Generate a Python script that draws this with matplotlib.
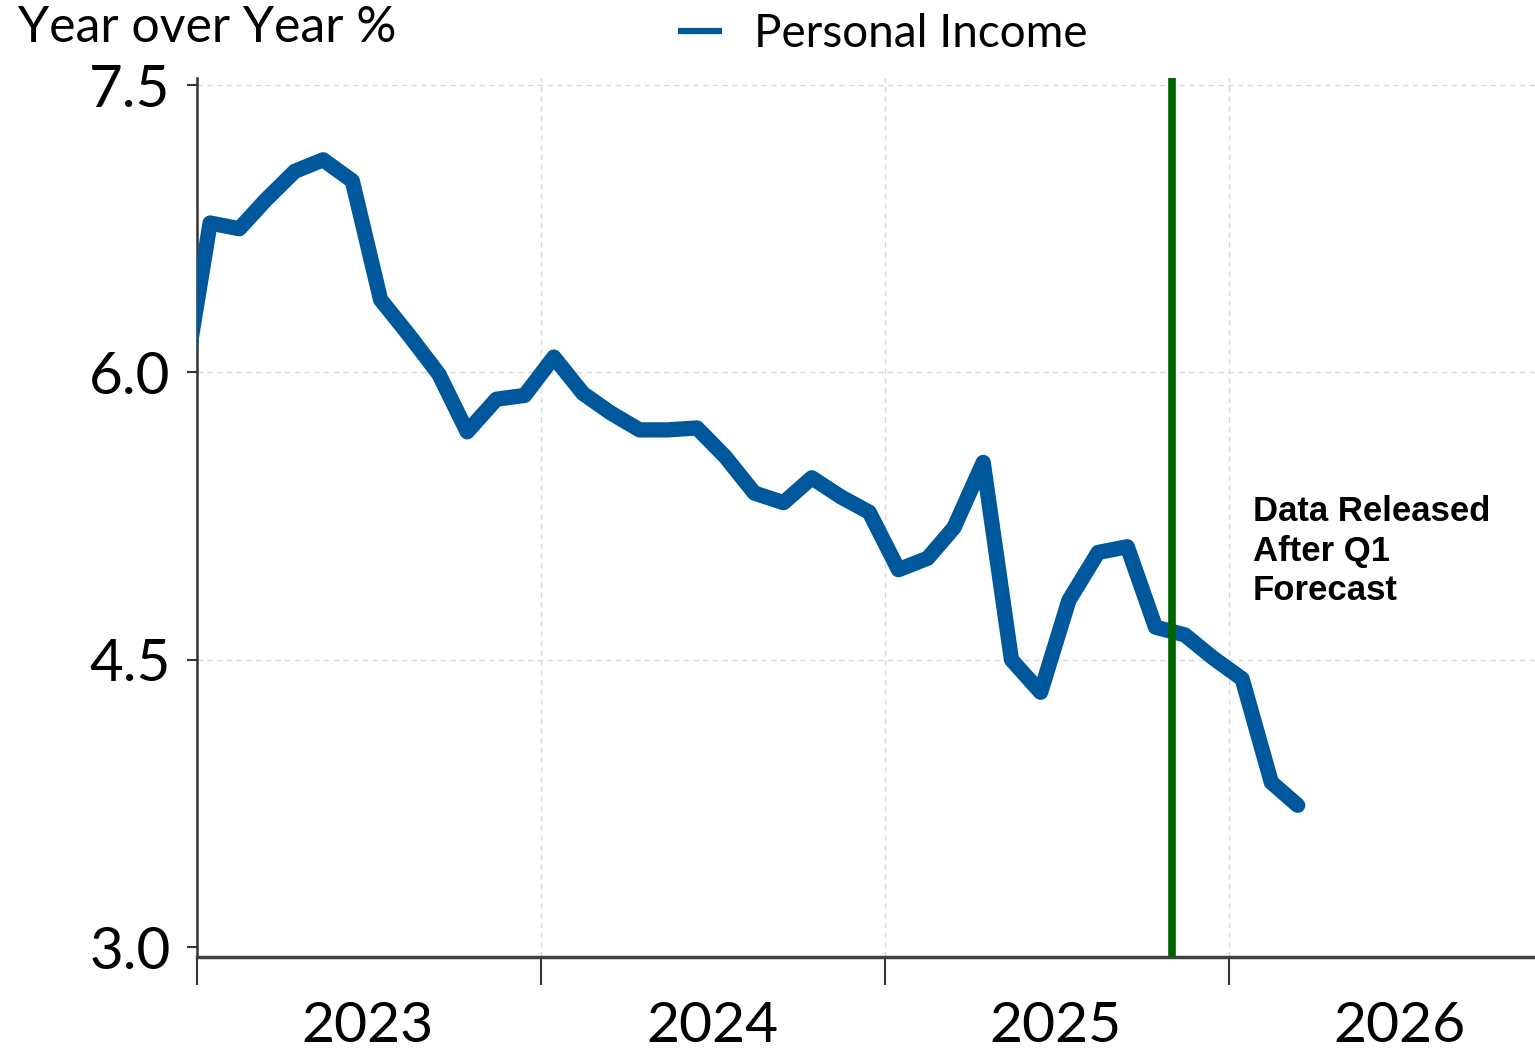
import matplotlib
matplotlib.use("Agg")
import matplotlib.pyplot as plt
from datetime import date

# monthly year-over-year % change, Dec 2022 .. Mar 2026 (mid-month)
months = [date(2022, 12, 15)]
for y in (2023, 2024, 2025, 2026):
    for m in range(1, 13):
        if y == 2026 and m > 3:
            break
        months.append(date(y, m, 15))

personal_income = [5.85,
                   6.78, 6.75, 6.90, 7.05, 7.11, 7.00, 6.38, 6.19, 5.99, 5.69, 5.86, 5.88,
                   6.08, 5.89, 5.79, 5.70, 5.70, 5.71, 5.56, 5.37, 5.32, 5.45, 5.35, 5.27,
                   4.97, 5.03, 5.19, 5.53, 4.50, 4.33, 4.81, 5.06, 5.09, 4.67, 4.63, 4.51,
                   4.40, 3.86, 3.74]

release_cutoff = date(2025, 11, 1)
years = [2023, 2024, 2025, 2026]
yticks = [3.0, 4.5, 6.0, 7.5]

plt.rcParams['font.family'] = ['Lato', 'DejaVu Sans']

fig = plt.figure(figsize=(15.35, 10.54), dpi=100)
ax = fig.add_axes([0.1283, 0.092, 0.8717, 0.834])

ax.plot(months, personal_income, color='#00589c', lw=11, solid_joinstyle='round',
        solid_capstyle='round', label='Personal Income', zorder=3)
ax.axvline(release_cutoff, color='#006400', lw=5.5, zorder=4)

ax.set_xlim(date(2023, 1, 1), date(2026, 11, 22))
ax.set_ylim(2.948, 7.537)

ax.set_yticks(yticks)
ax.set_yticklabels([f'{v:.1f}' for v in yticks])
ax.set_xticks([date(y, 1, 1) for y in years])
ax.set_xticklabels([])
ax.set_xticks([date(y, 7, 1) for y in years], minor=True)
ax.set_xticklabels([str(y) for y in years], minor=True)

ax.tick_params(axis='y', labelsize=42, length=7, width=1.5, pad=12, color='#333333')
ax.tick_params(axis='x', which='major', length=20, width=1.5, color='#333333')
ax.tick_params(axis='x', which='minor', labelsize=41, length=0, pad=32)

ax.grid(True, which='major', color='#d9d9d9', linestyle=(0, (4, 3)), lw=1)
ax.yaxis.get_gridlines()[0].set_visible(False)
for s in ('top', 'right'):
    ax.spines[s].set_visible(False)
ax.spines['left'].set_linewidth(1.8)
ax.spines['left'].set_color('#333333')
ax.spines['bottom'].set_linewidth(2.5)
ax.spines['bottom'].set_color('#404040')

fig.text(18 / 1535, 1 - 28 / 1054, 'Year over Year %', fontsize=36, va='center', ha='left')

leg = ax.legend(loc='center left', bbox_to_anchor=(678 / 1535, 1 - 34 / 1054),
                bbox_transform=fig.transFigure, frameon=False, fontsize=33,
                handlelength=0.95, handletextpad=0.7, borderpad=0, borderaxespad=0)
leg.get_lines()[0].set_linewidth(4.5)
leg.get_lines()[0].set_solid_capstyle('butt')

fig.text(1253 / 1535, 1 - 495 / 1054, 'Data Released\nAfter Q1\nForecast',
         fontsize=25, fontweight='bold', family='Liberation Sans', va='top',
         ha='left', linespacing=1.25)

fig.savefig('out.png', dpi=100)
